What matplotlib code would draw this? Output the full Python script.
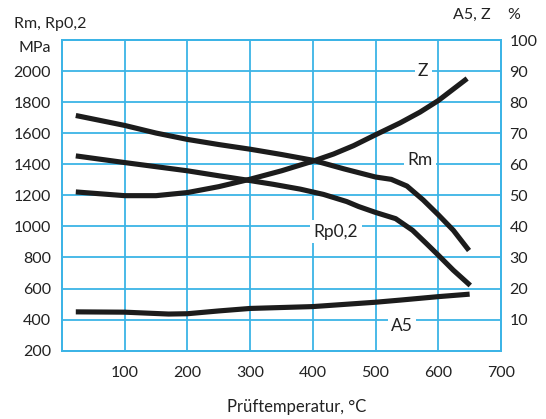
import matplotlib
matplotlib.use("Agg")
import matplotlib.pyplot as plt

plt.rcParams['font.family'] = ['Lato', 'DejaVu Sans']

# Temperatures (°C) and values
temp_rm = [22, 100, 150, 200, 250, 300, 350, 400, 450, 500, 525, 550, 576, 600, 624, 649]
rm      = [1714, 1650, 1601, 1560, 1527, 1497, 1463, 1426, 1370, 1318, 1303, 1260, 1170, 1075, 975, 845]

temp_rp = [22, 100, 200, 250, 300, 337, 380, 417, 454, 473, 500, 532, 559, 581, 600, 624, 651]
rp      = [1454, 1411, 1358, 1326, 1295, 1271, 1240, 1206, 1160, 1128, 1090, 1050, 975, 890, 815, 718, 620]

temp_z = [22, 100, 150, 200, 250, 300, 350, 400, 433, 465, 500, 539, 571, 600, 646]
z      = [51.1, 49.9, 49.9, 50.9, 52.8, 55.2, 57.9, 61.0, 63.3, 66.0, 69.5, 73.3, 76.8, 80.5, 87.6]

temp_a5 = [22, 100, 170, 200, 250, 300, 400, 500, 540, 600, 650]
a5      = [12.5, 12.4, 11.8, 11.9, 12.8, 13.6, 14.2, 15.6, 16.3, 17.4, 18.2]

x_ticks = [100, 200, 300, 400, 500, 600, 700]
left_ticks = [200, 400, 600, 800, 1000, 1200, 1400, 1600, 1800, 2000]
right_ticks = [10, 20, 30, 40, 50, 60, 70, 80, 90, 100]

grid_col = '#3cb4e6'
line_col = '#1c1c1c'
text_col = '#222222'

fig = plt.figure(figsize=(5.46, 4.19), dpi=100)
ax = fig.add_axes([62/546, 1 - 350.7/419, (501-62)/546, (350.7-40)/419])
ax2 = ax.twinx()

ax.set_xlim(0, 700)
ax.set_ylim(200, 2200)
ax2.set_ylim(0, 100)

for x in x_ticks:
    ax.axvline(x, color=grid_col, lw=1.3, zorder=0)
for y in left_ticks:
    ax.axhline(y, color=grid_col, lw=1.3, zorder=0)

for a in (ax, ax2):
    for s in a.spines.values():
        s.set_color(grid_col)
        s.set_linewidth(1.3)

ax.set_xticks(x_ticks)
ax.set_yticks(left_ticks)
ax2.set_yticks(right_ticks)
ax.tick_params(axis='both', length=0, labelsize=11.5, colors=text_col)
ax.tick_params(axis='x', pad=11)
ax.tick_params(axis='y', pad=8)
ax2.tick_params(axis='y', length=0, labelsize=11.5, colors=text_col, pad=6)

lw = 3.7
kw = dict(color=line_col, lw=lw, solid_capstyle='butt', solid_joinstyle='round', zorder=3)
ax.plot(temp_rm, rm, **kw)
ax.plot(temp_rp, rp, **kw)
ax2.plot(temp_z, z, **kw)
ax2.plot(temp_a5, a5, **kw)

bbox = dict(facecolor='white', edgecolor='none', pad=2.5)
ax.text(576, 2000, 'Z', fontsize=12.5, ha='center', va='center', bbox=bbox, zorder=2, color=text_col)
ax.text(571, 1428, 'Rm', fontsize=12.5, ha='center', va='center', bbox=bbox, zorder=2, color=text_col)
ax.text(437, 966, 'Rp0,2', fontsize=12.5, ha='center', va='center', bbox=bbox, zorder=2, color=text_col)
ax.text(542, 359, 'A5', fontsize=12.5, ha='center', va='center', bbox=bbox, zorder=2, color=text_col)

fig.text(14/546, 1 - 24/419, 'Rm, Rp0,2', fontsize=11.5, ha='left', va='center', color=text_col)
fig.text(18/546, 1 - 48/419, 'MPa', fontsize=11.5, ha='left', va='center', color=text_col)
fig.text(453/546, 1 - 15/419, 'A5, Z', fontsize=11.5, ha='left', va='center', color=text_col)
fig.text(507/546, 1 - 15/419, '%', fontsize=11.5, ha='left', va='center', color=text_col)
fig.text(297/546, 1 - 407/419, 'Prüftemperatur, °C', fontsize=12, ha='center', va='center', color=text_col)

fig.savefig('out.png', dpi=100)
